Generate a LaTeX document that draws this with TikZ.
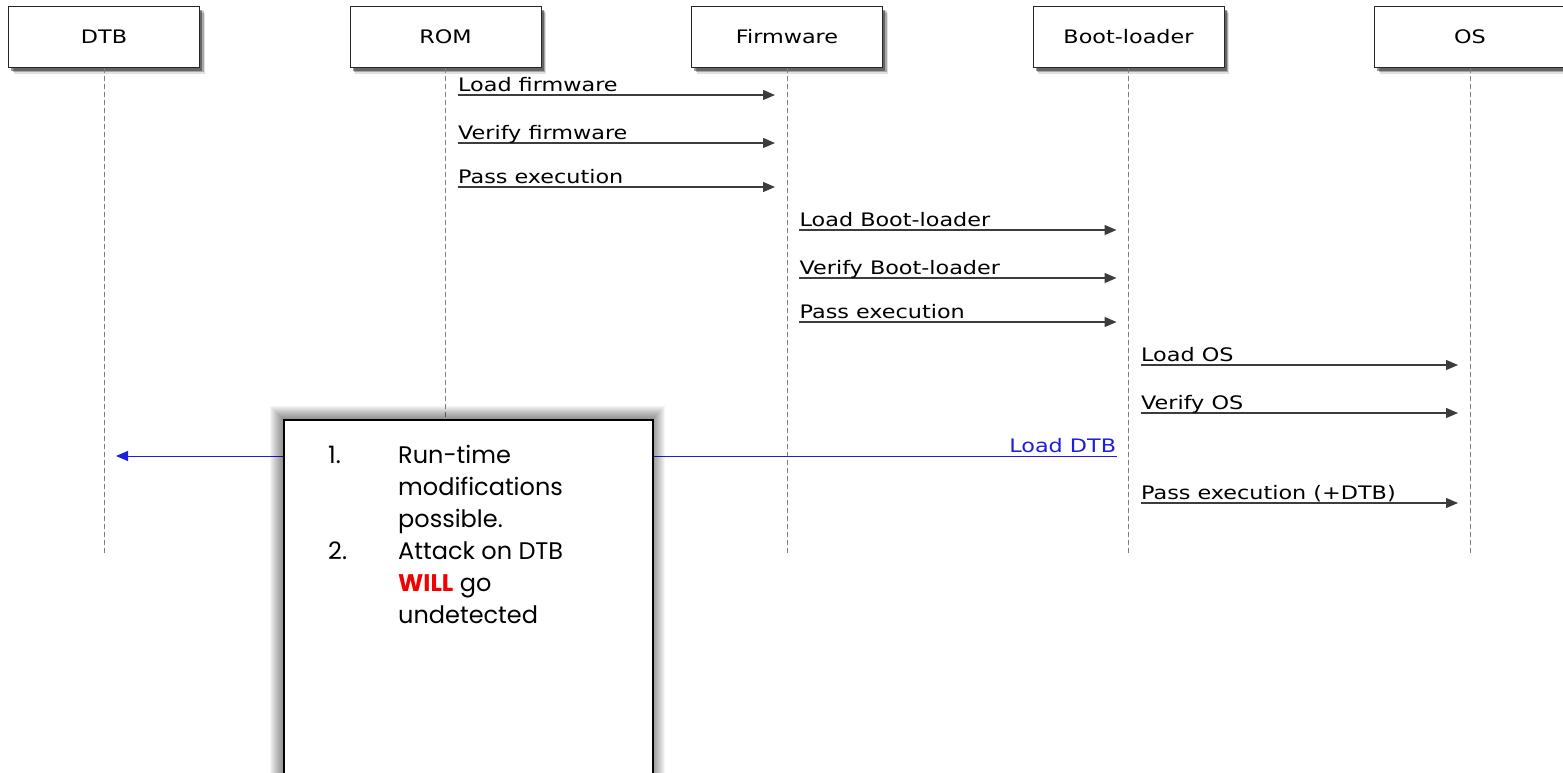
\documentclass[tikz,border=0pt]{standalone}
\usepackage{fontspec}
\usepackage{xcolor}
\usetikzlibrary{calc,shadows,arrows.meta}
\newfontfamily\seqfont{DejaVu Sans}[FakeStretch=1.2]
\newfontfamily\notefont{Poppins}
\definecolor{msgline}{RGB}{60,60,60}
\definecolor{dtbblue}{RGB}{30,30,225}
\definecolor{willred}{RGB}{245,0,0}
\tikzset{
  actor/.style={draw=black!85, fill=white, line width=1pt, minimum width=191pt,
    minimum height=61pt, inner sep=0pt, font=\seqfont\fontsize{18.6}{22}\selectfont,
    drop shadow={shadow xshift=5pt, shadow yshift=-7pt, opacity=0.12, fill=black},
    drop shadow={shadow xshift=4pt, shadow yshift=-5pt, opacity=0.25, fill=black},
    drop shadow={shadow xshift=2.5pt, shadow yshift=-3.5pt, opacity=0.4, fill=black}},
  lifeline/.style={draw=gray, line width=0.9pt, dash pattern=on 5pt off 3pt},
  msgarrow/.style={draw=msgline, line width=1.2pt, -{Triangle[length=12pt,width=10pt]}},
  msglabel/.style={font=\seqfont\fontsize{18.6}{22}\selectfont, inner sep=0pt, yshift=3.5pt},
  notebox/.style={draw=black, line width=1.6pt, fill=white, minimum width=369pt,
    minimum height=400pt, inner sep=0pt},
}
% message from lifeline #2 to lifeline #3 at height #4, label #5
\newcommand{\msg}[5][]{
  \coordinate (m) at (0,#4);
  \draw[msgarrow,#1] ($(#2 |- m)+(12,0)$) -- node[msglabel,pos=0,anchor=base west] {#5}
    ($(#3 |- m)+(-12,0)$);
}

\begin{document}
\begin{tikzpicture}[x=1pt,y=-1pt]
  \useasboundingbox (0,0) rectangle (1563,772);
  \clip (0,0) rectangle (1563,772);

  % participants
  \foreach \name/\txt [count=\i] in {dtb/DTB,rom/ROM,fw/Firmware,bl/Boot-loader,os/OS}{
    \node[actor] (\name) at ({104+341.5*(\i-1)},36.5) {\txt};
  }
  \coordinate (end) at (0,555);
  \foreach \name in {dtb,rom,fw,bl,os}
    \draw[lifeline] (\name.south) -- (\name |- end);

  % messages
  \msg{rom}{fw}{95}{Load firmware}
  \msg{rom}{fw}{143}{Verify firmware}
  \msg{rom}{fw}{187}{Pass execution}
  \msg{fw}{bl}{230}{Load Boot-loader}
  \msg{fw}{bl}{278}{Verify Boot-loader}
  \msg{fw}{bl}{322}{Pass execution}
  \msg{bl}{os}{365}{Load OS}
  \msg{bl}{os}{413}{Verify OS}
  \coordinate (m) at (0,456);
  \draw[msgarrow, draw=dtbblue, line width=0.8pt] ($(bl |- m)+(-12,0)$)
    -- node[msglabel,pos=0,anchor=base east,text=dtbblue] {Load DTB} ($(dtb |- m)+(12,0)$);
  \msg{bl}{os}{503}{Pass execution (+DTB)}

  % remark box
  \foreach \s in {1,...,13}
    \fill[black,opacity=0.04] (283-\s,419-\s) rectangle (652+\s,800);
  \node[notebox, anchor=north west] (remark) at (283,419) {};
  \node[anchor=north west, inner sep=0pt, font=\notefont\fontsize{24}{32}\selectfont] (items)
    at (328,441) {\begin{tabular}{@{}p{70pt}@{}l@{}}
      1. & Run-time\\
         & modifications\\
         & possible.\\
      2. & Attack on DTB\\
         & \textcolor{willred}{\bfseries WILL} go\\
         & undetected
    \end{tabular}};
\end{tikzpicture}
\end{document}
